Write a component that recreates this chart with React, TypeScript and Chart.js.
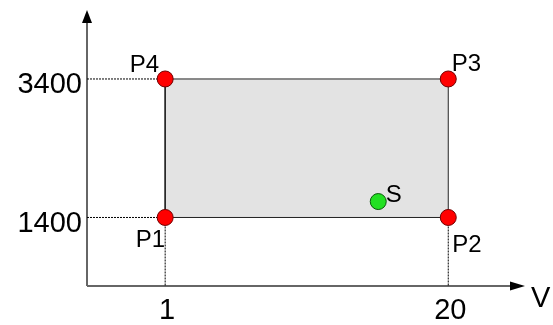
import React, { useEffect, useRef } from "react";
import { Chart, registerables } from "chart.js";

Chart.register(...registerables);

// ---- data ----
const cornerNames = ["P1", "P2", "P3", "P4"];
const cornerV = [1, 20, 20, 1];
const cornerP = [1400, 1400, 3400, 3400];
const stateName = "S";
const stateV = [15.3];
const stateP = [1630];
const xTickValues = [1, 20];
const yTickValues = [1400, 3400];
const xAxisTitle = "V";

// ---- layout / style ----
const X_MIN = -4.246;
const X_MAX = 25.15;
const Y_MIN = 410.5;
const Y_MAX = 4396;
const FONT = "Liberation Sans, Arial, sans-serif";
const labelOffsets: Record<string, { dx: number; dy: number; align: CanvasTextAlign }> = {
  P1: { dx: 0, dy: 30, align: "right" },
  P2: { dx: 4, dy: 34.5, align: "left" },
  P3: { dx: 3.5, dy: -8, align: "left" },
  P4: { dx: -6, dy: -7, align: "right" },
  S: { dx: 7.5, dy: 0, align: "left" },
};

const pts = (xs: number[], ys: number[]) => xs.map((x, i) => ({ x, y: ys[i] }));

const decorPlugin = {
  id: "decor",
  beforeDatasetsDraw(chart: any) {
    const { ctx, chartArea } = chart;
    const { left, right, top, bottom } = chartArea;
    ctx.save();
    ctx.strokeStyle = "#666";
    ctx.lineWidth = 2;
    ctx.beginPath();
    ctx.moveTo(left, bottom);
    ctx.lineTo(left, top + 12);
    ctx.moveTo(left, bottom);
    ctx.lineTo(right - 14, bottom);
    ctx.stroke();
    ctx.fillStyle = "#000";
    ctx.beginPath();
    ctx.moveTo(left, top);
    ctx.lineTo(left - 5, top + 13);
    ctx.lineTo(left + 5, top + 13);
    ctx.closePath();
    ctx.fill();
    ctx.beginPath();
    ctx.moveTo(right, bottom);
    ctx.lineTo(right - 15, bottom - 4.5);
    ctx.lineTo(right - 15, bottom + 4.5);
    ctx.closePath();
    ctx.fill();
    ctx.restore();
  },
  afterDraw(chart: any) {
    const { ctx, chartArea, scales } = chart;
    const xs = scales.x;
    const ys = scales.y;
    ctx.save();
    ctx.fillStyle = "#000";
    ctx.font = `29px ${FONT}`;
    ctx.textBaseline = "alphabetic";
    ctx.textAlign = "right";
    yTickValues.forEach((v) => {
      ctx.fillText(String(v), chartArea.left - 5, ys.getPixelForValue(v) + 14.5);
    });
    ctx.textAlign = "center";
    xTickValues.forEach((v) => {
      ctx.fillText(String(v), xs.getPixelForValue(v) + 2, chartArea.bottom + 33);
    });
    ctx.textAlign = "left";
    ctx.fillText(xAxisTitle, chartArea.right + 6, chartArea.bottom + 20.5);

    ctx.font = `24px ${FONT}`;
    const names = [...cornerNames, stateName];
    const vx = [...cornerV, ...stateV];
    const vy = [...cornerP, ...stateP];
    names.forEach((n, i) => {
      const o = labelOffsets[n];
      ctx.textAlign = o.align;
      ctx.fillText(n, xs.getPixelForValue(vx[i]) + o.dx, ys.getPixelForValue(vy[i]) + o.dy);
    });
    ctx.restore();
  },
};

export default function App() {
  const ref = useRef<HTMLCanvasElement | null>(null);
  useEffect(() => {
    if (!ref.current) return;
    const closed = pts([...cornerV, cornerV[0]], [...cornerP, cornerP[0]]);
    const guide = (a: any[]) => ({
      type: "line" as const,
      data: a,
      borderColor: "#000",
      borderWidth: 1,
      borderDash: [2, 1],
      pointRadius: 0,
      fill: false,
      order: 3,
    });
    const chart = new Chart(ref.current, {
      type: "scatter",
      data: {
        datasets: [
          {
            type: "line",
            data: pts([cornerV[3], cornerV[2]], [cornerP[3], cornerP[2]]),
            fill: { value: cornerP[0] },
            backgroundColor: "#e3e3e3",
            borderWidth: 0,
            pointRadius: 0,
            order: 5,
          } as any,
          {
            type: "line",
            data: closed,
            borderColor: "#222",
            borderWidth: 1,
            pointRadius: 0,
            fill: false,
            order: 2,
          } as any,
          guide([{ x: X_MIN, y: cornerP[3] }, { x: cornerV[3], y: cornerP[3] }]),
          guide([{ x: X_MIN, y: cornerP[0] }, { x: cornerV[0], y: cornerP[0] }]),
          guide([{ x: cornerV[0], y: cornerP[0] }, { x: cornerV[0], y: Y_MIN }]),
          guide([{ x: cornerV[1], y: cornerP[1] }, { x: cornerV[1], y: Y_MIN }]),
          {
            data: pts(cornerV, cornerP),
            pointRadius: 8,
            pointBackgroundColor: "#ff0000",
            pointBorderColor: "#700000",
            pointBorderWidth: 1,
            showLine: false,
            order: 0,
          } as any,
          {
            data: pts(stateV, stateP),
            pointRadius: 8,
            pointBackgroundColor: "#22e022",
            pointBorderColor: "#0a5a0a",
            pointBorderWidth: 1,
            showLine: false,
            order: 0,
          } as any,
        ],
      },
      options: {
        responsive: false,
        animation: false,
        events: [],
        layout: { padding: { left: 87, right: 28, top: 10, bottom: 39 } },
        plugins: { legend: { display: false }, tooltip: { enabled: false } },
        scales: {
          x: { type: "linear", min: X_MIN, max: X_MAX, display: false },
          y: { type: "linear", min: Y_MIN, max: Y_MAX, display: false },
        },
      },
      plugins: [decorPlugin],
    });
    return () => chart.destroy();
  }, []);
  return (
    <div style={{ position: "fixed", left: 0, top: 0, width: 553, height: 325, background: "#fff" }}>
      <canvas ref={ref} width={553} height={325} />
    </div>
  );
}
